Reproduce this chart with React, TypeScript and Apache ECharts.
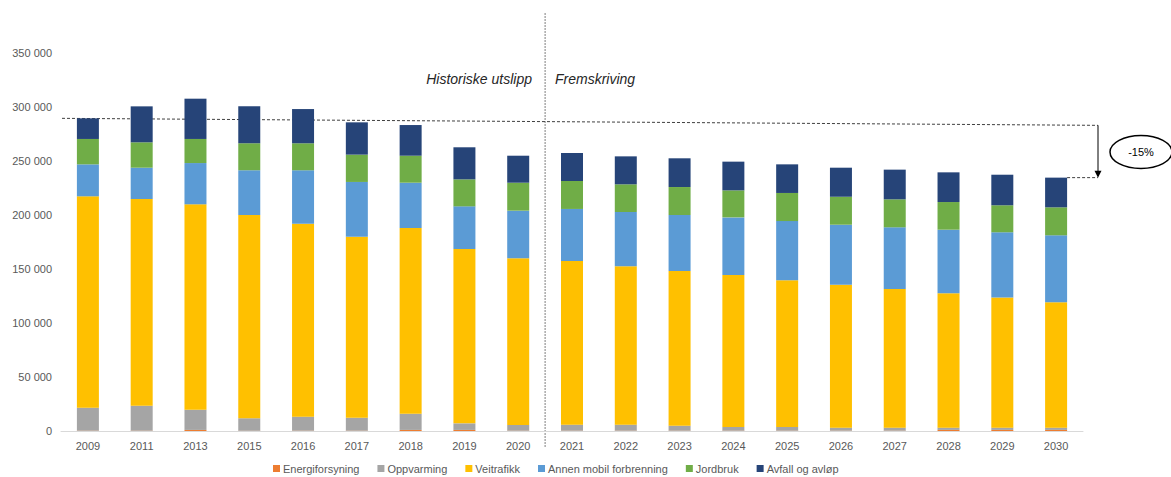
import React, { useEffect, useRef } from "react";
import * as echarts from "echarts";

const years = ["2009","2011","2013","2015","2016","2017","2018","2019","2020","2021","2022","2023","2024","2025","2026","2027","2028","2029","2030"];
const energiforsyning = [300,300,1000,300,300,300,1000,1000,300,300,300,300,300,300,300,300,1000,1000,1000];
const oppvarming = [21300,23100,18700,11400,13000,12000,15000,6100,5300,5600,5600,4600,3400,3400,2800,2800,2100,2100,2100];
const veitrafikk = [195700,191400,190200,188300,178600,167600,172000,161400,154300,151500,146600,143200,140700,135800,132400,128400,124400,120400,116100];
const annenMobil = [29600,29000,38200,41400,49500,50700,41900,39500,44100,48200,50300,51900,53400,54900,55500,57100,58900,60500,62000];
const jordbruk = [23500,23500,22300,25000,25000,25300,25000,25000,25900,25900,25600,25900,25000,26000,25900,25900,25600,25000,25900];
const avfall = [19100,33300,37300,34200,31700,29900,28400,29700,25000,25900,25900,26600,26600,26500,26900,27500,27500,28300,27500];

const seriesNames = ["Energiforsyning","Oppvarming","Veitrafikk","Annen mobil forbrenning","Jordbruk","Avfall og avløp"];
const seriesData = [energiforsyning, oppvarming, veitrafikk, annenMobil, jordbruk, avfall];
const colors = ["#ED7D31","#A5A5A5","#FFC000","#5B9BD5","#70AD47","#264478"];
const yTicks = [0, 50000, 100000, 150000, 200000, 250000, 300000, 350000];

const FONT = "'Liberation Sans', Arial, sans-serif";

export default function App() {
  const ref = useRef<HTMLDivElement>(null);
  useEffect(() => {
    document.body.style.margin = "0";
    const chart = echarts.init(ref.current!, null, { renderer: "svg" });
    const fmt = (v: number) => String(v).replace(/\B(?=(\d{3})+(?!\d))/g, " ");
    chart.setOption({
      animation: false,
      color: colors,
      textStyle: { fontFamily: FONT },
      grid: { left: 61, right: 88, top: 53, bottom: 46 },
      legend: {
        top: 458,
        left: 268,
        itemWidth: 7,
        itemHeight: 7,
        itemGap: 18,
        icon: "rect",
        textStyle: { color: "#595959", fontSize: 11, fontFamily: FONT, padding: [0, 0, 0, -2] },
        data: seriesNames,
      },
      xAxis: {
        type: "category",
        data: years,
        axisLine: { lineStyle: { color: "#D9D9D9" } },
        axisTick: { show: false },
        axisLabel: { color: "#595959", fontSize: 11, margin: 9 },
      },
      yAxis: {
        type: "value",
        min: yTicks[0],
        max: yTicks[yTicks.length - 1],
        interval: 50000,
        splitLine: { show: false },
        axisLine: { show: false },
        axisTick: { show: false },
        axisLabel: { color: "#595959", fontSize: 11, margin: 9, formatter: fmt },
      },
      series: seriesNames.map((n, i) => ({
        name: n,
        type: "bar",
        stack: "total",
        barWidth: 22,
        data: seriesData[i],
        itemStyle: { color: colors[i] },
      })),
    });

    const totals = years.map((_, j) => seriesData.reduce((s, arr) => s + arr[j], 0));
    const px = (i: number, v: number) => chart.convertToPixel({ xAxisIndex: 0, yAxisIndex: 0 }, [i, v]) as number[];
    const p0 = px(0, totals[0]);
    const pLast = px(years.length - 1, totals[years.length - 1]);
    const xSplit = (px(8, 0)[0] + px(9, 0)[0]) / 2;
    const xArrow = 1098;
    const yArrowTop = p0[1] + 7;
    const dash = { stroke: "#404040", lineWidth: 1, lineDash: [3, 2] };

    chart.setOption({
      graphic: [
        { type: "line", shape: { x1: xSplit, y1: 13, x2: xSplit, y2: 448 }, style: { stroke: "#7F7F7F", lineWidth: 1, lineDash: [2, 1] } },
        { type: "line", shape: { x1: 62, y1: p0[1], x2: xArrow, y2: yArrowTop }, style: dash },
        { type: "line", shape: { x1: pLast[0] + 11, y1: pLast[1], x2: xArrow, y2: pLast[1] }, style: dash },
        { type: "line", shape: { x1: xArrow, y1: yArrowTop, x2: xArrow, y2: pLast[1] - 5 }, style: { stroke: "#000", lineWidth: 1 } },
        { type: "polygon", shape: { points: [[xArrow - 3.5, pLast[1] - 7], [xArrow + 3.5, pLast[1] - 7], [xArrow, pLast[1]]] }, style: { fill: "#000" } },
        { type: "ellipse", shape: { cx: 1141, cy: 152, rx: 31, ry: 16.5 }, style: { fill: "#fff", stroke: "#000", lineWidth: 1.5 } },
        { type: "text", x: 1141, y: 152, style: { text: "-15%", fontSize: 11, fontFamily: FONT, fill: "#000", align: "center", verticalAlign: "middle" } },
        { type: "text", x: 532, y: 79, style: { text: "Historiske utslipp", fontSize: 14, fontStyle: "italic", fontFamily: FONT, fill: "#262626", align: "right", verticalAlign: "middle" } },
        { type: "text", x: 555, y: 79, style: { text: "Fremskriving", fontSize: 14, fontStyle: "italic", fontFamily: FONT, fill: "#262626", align: "left", verticalAlign: "middle" } },
      ],
    });
    return () => chart.dispose();
  }, []);
  return <div ref={ref} style={{ width: 1171, height: 477 }} />;
}
